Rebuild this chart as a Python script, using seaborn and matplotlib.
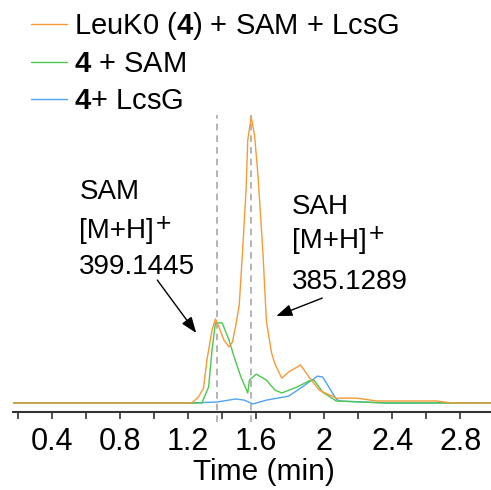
import numpy as np
import pandas as pd
import matplotlib
matplotlib.use("Agg")
import matplotlib.pyplot as plt
import seaborn as sns

# Extracted ion chromatograms (relative intensity, %), time in minutes
t_full = [0.17, 1.22, 1.26, 1.29, 1.31, 1.34, 1.36, 1.38, 1.41, 1.44, 1.46, 1.48,
          1.50, 1.52, 1.54, 1.55, 1.57, 1.59, 1.61, 1.64, 1.66, 1.69, 1.71, 1.75,
          1.79, 1.86, 1.91, 1.97, 2.07, 2.19, 2.31, 2.66, 2.75, 2.98]
i_full = [0.0, 0.0, 2.1, 5.2, 15.0, 25.5, 29.4, 26.6, 22.0, 19.6, 21.3, 27.3,
          34.3, 53.5, 74.5, 91.9, 100.0, 93.7, 79.7, 51.7, 28.3, 17.5, 13.6, 8.7,
          10.8, 13.3, 9.1, 4.5, 1.7, 1.7, 0.7, 0.7, 0.0, 0.0]

t_sam = [0.17, 1.28, 1.32, 1.34, 1.36, 1.40, 1.44, 1.47, 1.51, 1.55, 1.56,
         1.60, 1.66, 1.71, 1.75, 1.84, 1.91, 1.94, 1.99, 2.07, 2.36, 2.98]
i_sam = [0.0, 0.0, 5.6, 18.5, 28.0, 28.0, 22.0, 16.1, 9.1, 3.5, 8.0,
         10.1, 8.0, 4.5, 3.5, 5.6, 7.7, 8.0, 3.8, 0.7, 0.0, 0.0]

t_lcsg = [0.17, 1.22, 1.37, 1.48, 1.53, 1.58, 1.66, 1.79, 1.87, 1.96, 1.99,
          2.07, 2.09, 2.36, 2.98]
i_lcsg = [0.0, 0.0, 0.35, 1.4, 1.0, -0.35, 1.0, 2.4, 5.6, 9.4, 9.1,
          1.4, 0.7, 0.0, 0.0]

series_names = ["LeuK0 ($\\mathbf{4}$) + SAM + LcsG",
                "$\\mathbf{4}$ + SAM",
                "$\\mathbf{4}$+ LcsG"]
series_colors = ["#F79A34", "#4CC84C", "#4FA3F0"]

# Retention times of SAM and SAH
marker_times = [1.37, 1.57]

sns.set_theme(style="white", rc={"text.color": "black", "axes.labelcolor": "black",
                                 "xtick.color": "black", "ytick.color": "black"})
plt.rcParams["font.family"] = ["Liberation Sans", "DejaVu Sans"]
plt.rcParams["mathtext.fontset"] = "custom"
plt.rcParams["mathtext.rm"] = "Liberation Sans"
plt.rcParams["mathtext.bf"] = "Liberation Sans:bold"
plt.rcParams["mathtext.it"] = "Liberation Sans:italic"

df = pd.concat([
    pd.DataFrame({"time": t_full, "intensity": i_full, "sample": series_names[0]}),
    pd.DataFrame({"time": t_sam, "intensity": i_sam, "sample": series_names[1]}),
    pd.DataFrame({"time": t_lcsg, "intensity": i_lcsg, "sample": series_names[2]}),
], ignore_index=True)

fig = plt.figure(figsize=(4.91, 4.90), dpi=100)
ax = fig.add_axes([13 / 491, 1 - 412 / 490, 478 / 491, 407 / 490])

# draw the blue trace first so the others sit on top
order = [series_names[2], series_names[1], series_names[0]]
for name in order:
    sub = df[df["sample"] == name]
    sns.lineplot(data=sub, x="time", y="intensity", ax=ax, sort=False,
                 estimator=None, color=series_colors[series_names.index(name)],
                 linewidth=1.0, label=None)

for mt in marker_times:
    ax.axvline(mt, ymin=-0.025, ymax=0.73, color="#A8A8A8", lw=1.2,
               ls=(0, (4, 3)), clip_on=False, zorder=0)

ax.set_xlim(0.17, 2.98)
ax.set_ylim(-3.15, 139.2)

# x axis: ticks every 0.2 min, labels every 0.4 min
ax.set_xticks([0.4, 0.8, 1.2, 1.6, 2.0, 2.4, 2.8])
ax.set_xticklabels(["0.4", "0.8", "1.2", "1.6", "2", "2.4", "2.8"], fontsize=22)
ax.set_xticks([0.2, 0.6, 1.0, 1.4, 1.8, 2.2, 2.6], minor=True)
ax.tick_params(axis="x", which="both", direction="out", length=5, width=1.2,
               color="#333333", bottom=True, pad=6)
ax.set_yticks([])
ax.set_ylabel("")
ax.set_xlabel("Time (min)", fontsize=21.5, labelpad=0)
ax.xaxis.set_label_coords(0.525, -0.113)
for side in ["left", "right", "top"]:
    ax.spines[side].set_visible(False)
ax.spines["bottom"].set_color("#333333")
ax.spines["bottom"].set_linewidth(1.5)

# peak annotations
txt_kw = dict(fontsize=20, ha="left", va="center", color="black")


def ion_label(x, y_name, y_ion, y_mass, name, mass):
    ax.text(x, y_name, name, **txt_kw)
    ion = ax.text(x, y_ion, "[M+H]", **txt_kw)
    ax.annotate("+", xy=(1, 1), xycoords=ion, xytext=(2, -6),
                textcoords="offset pixels", fontsize=19, ha="left", va="center")
    ax.text(x, y_mass, mass, **txt_kw)


ion_label(0.56, 73.8, 60.1, 47.6, "SAM", "399.1445")
ion_label(1.81, 68.5, 56.6, 42.2, "SAH", "385.1289")

arrow_kw = dict(arrowstyle="-|>,head_length=0.8,head_width=0.3", color="black",
                lw=1.0, shrinkA=0, shrinkB=0)
ax.annotate("", xy=(1.247, 24.5), xytext=(1.018, 43.0), arrowprops=arrow_kw)
ax.annotate("", xy=(1.718, 30.4), xytext=(1.988, 36.7), arrowprops=arrow_kw)

handles = [plt.Line2D([], [], color=c, lw=1.0) for c in series_colors]
ax.legend(handles, series_names, loc="upper left",
          bbox_to_anchor=(22 / 491, 1 - 1 / 490), bbox_transform=fig.transFigure,
          frameon=False, fontsize=21, handlelength=1.25, handletextpad=0.25,
          labelspacing=0.3, borderpad=0.3, borderaxespad=0)

fig.savefig("out.png", dpi=100)
